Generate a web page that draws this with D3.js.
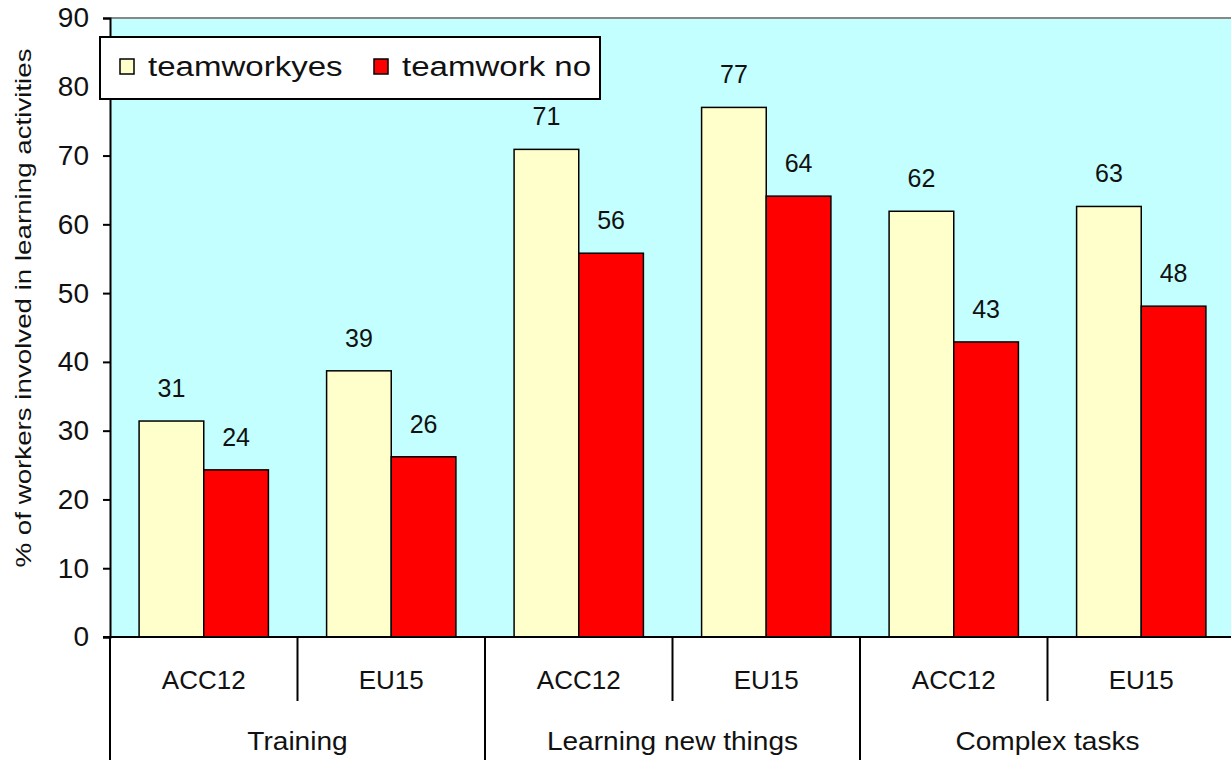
<!DOCTYPE html>
<html lang="en">
<head>
<meta charset="UTF-8">
<title>Teamwork and learning</title>
<script src="https://cdn.jsdelivr.net/npm/d3@7"></script>
<style>
  body { margin: 0; background: #fff; }
  text { font-family: "Liberation Sans", Arial, sans-serif; fill: #111; }
</style>
</head>
<body>
<script>
    const groups = ['Training', 'Learning new things', 'Complex tasks']
    const regions = ['ACC12', 'EU15']
    const seriesNames = ['teamworkyes', 'teamwork no']
    const teamworkYes = [31.4, 38.7, 70.9, 77.0, 61.9, 62.6]
    const teamworkNo = [24.3, 26.2, 55.8, 64.1, 42.9, 48.1]
    const yesLabels = [31, 39, 71, 77, 62, 63]
    const noLabels = [24, 26, 56, 64, 43, 48]
    const yTicks = [0, 10, 20, 30, 40, 50, 60, 70, 80, 90]

    const [width, height] = [1231, 760]
    const plot = {left: 110, right: 1235, top: 18, bottom: 637}
    const colors = ['#ffffcc', '#ff0000']

    const cats = []
    groups.forEach(g => regions.forEach(r => cats.push(g + '|' + r)))
    const rows = cats.map((c, i) => ({key: c, values: [teamworkYes[i], teamworkNo[i]], labels: [yesLabels[i], noLabels[i]]}))

    const x = d3.scaleBand().domain(cats).range([plot.left, plot.right]).paddingInner(0).paddingOuter(0)
    const inner = d3.scaleBand().domain([0, 1]).range([0, x.bandwidth()]).paddingOuter(0.45).paddingInner(0)
    const y = d3.scaleLinear().domain([0, 90]).range([plot.bottom, plot.top])

    const svg = d3.select('body').append('svg').attr('width', width).attr('height', height)

    // plot background
    svg.append('rect')
        .attr('x', plot.left).attr('y', plot.top)
        .attr('width', plot.right - plot.left).attr('height', plot.bottom - plot.top)
        .attr('fill', '#c4ffff')
    svg.append('line')
        .attr('x1', plot.left).attr('x2', plot.right)
        .attr('y1', plot.top).attr('y2', plot.top)
        .attr('stroke', '#888').attr('stroke-width', 2)

    // bars
    const g = svg.selectAll('g.cat').data(rows).enter().append('g')
        .attr('class', 'cat')
        .attr('transform', d => `translate(${x(d.key)},0)`)
    g.selectAll('rect').data(d => d.values).enter().append('rect')
        .attr('x', (d, i) => inner(i))
        .attr('y', d => y(d))
        .attr('width', inner.bandwidth())
        .attr('height', d => y(0) - y(d))
        .attr('fill', (d, i) => colors[i])
        .attr('stroke', '#000').attr('stroke-width', 1.5)
    g.selectAll('text.val').data(d => d.values.map((v, i) => ({v, lab: d.labels[i], i}))).enter().append('text')
        .attr('class', 'val')
        .attr('x', d => inner(d.i) + inner.bandwidth() / 2)
        .attr('y', d => y(d.v) - 24)
        .attr('text-anchor', 'middle')
        .attr('font-size', 25)
        .text(d => d.lab)

    // y axis
    const yAxis = svg.append('g')
        .attr('transform', `translate(${plot.left},0)`)
        .call(d3.axisLeft(y).tickValues(yTicks).tickSize(7).tickPadding(14).tickFormat(d3.format('d')))
    yAxis.select('.domain').attr('stroke', '#000').attr('stroke-width', 2)
    yAxis.selectAll('.tick line').attr('stroke', '#000').attr('stroke-width', 2)
    yAxis.selectAll('.tick text').attr('font-size', 28).attr('font-family', '"Liberation Sans", Arial, sans-serif').attr('fill', '#111')

    svg.append('text')
        .attr('transform', `translate(31,${308}) rotate(-90) scale(1.26,1)`)
        .attr('text-anchor', 'middle')
        .attr('font-size', 22)
        .text('% of workers involved in learning activities')

    // x axis baseline
    svg.append('line')
        .attr('x1', plot.left - 7).attr('x2', plot.right)
        .attr('y1', plot.bottom).attr('y2', plot.bottom)
        .attr('stroke', '#000').attr('stroke-width', 2)

    // category separators
    cats.forEach((c, i) => {
        const isGroupStart = i % 2 === 0
        svg.append('line')
            .attr('x1', x(c)).attr('x2', x(c))
            .attr('y1', plot.bottom).attr('y2', isGroupStart ? height : plot.bottom + 64)
            .attr('stroke', '#000').attr('stroke-width', 2)
        svg.append('text')
            .attr('x', x(c) + x.bandwidth() / 2)
            .attr('y', plot.bottom + 52)
            .attr('text-anchor', 'middle')
            .attr('font-size', 26)
            .text(c.split('|')[1])
    })
    groups.forEach((gName, gi) => {
        svg.append('text')
            .attr('transform', `translate(${x(cats[gi * 2]) + x.bandwidth()},${plot.bottom + 113}) scale(1.08,1)`)
            .attr('text-anchor', 'middle')
            .attr('font-size', 26)
            .text(gName)
    })

    // legend
    const legend = svg.append('g').attr('transform', 'translate(100,37)')
    legend.append('rect')
        .attr('width', 500).attr('height', 62)
        .attr('fill', '#fff').attr('stroke', '#000').attr('stroke-width', 2)
    const legendX = [20, 274]
    seriesNames.forEach((name, i) => {
        legend.append('rect')
            .attr('x', legendX[i]).attr('y', 22)
            .attr('width', 14).attr('height', 15)
            .attr('fill', colors[i]).attr('stroke', '#000').attr('stroke-width', 1.5)
        legend.append('text')
            .attr('transform', `translate(${legendX[i] + 28},39) scale(1.18,1)`)
            .attr('font-size', 28)
            .text(name)
    })
</script>
</body>
</html>
